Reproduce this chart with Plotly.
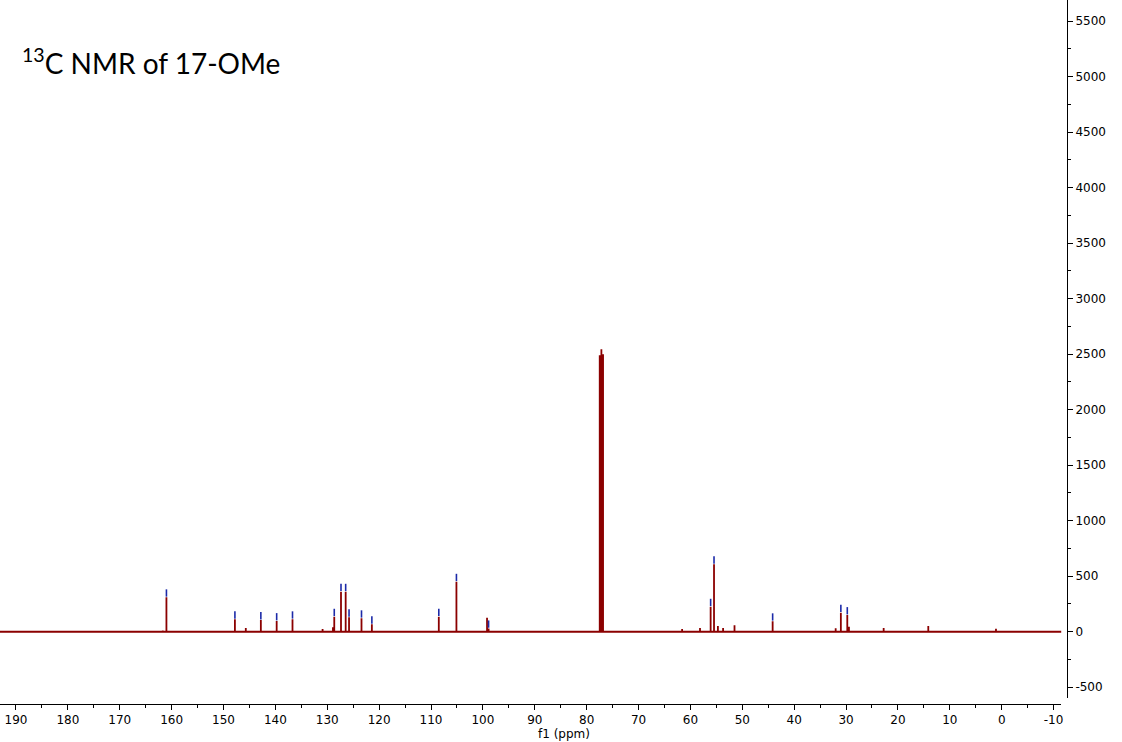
import plotly.graph_objects as go

# 13C spectrum peak list: chemical shift (ppm) and intensity
peak_ppm = [161.7, 161.0, 147.8, 145.7, 142.8, 139.75, 136.7, 132.0, 130.9, 128.9,
            128.65, 127.35, 126.45, 125.8, 123.4, 121.4, 108.5, 105.1, 99.2, 98.9,
            77.48, 77.16, 76.84, 61.6, 58.15, 56.1, 55.45, 54.7, 53.7, 51.5,
            44.15, 32.0, 31.0, 29.76, 29.44, 22.75, 14.15, 1.1]
peak_int = [12, 310, 112, 33, 105, 96, 112, 8, 24, 40,
            135, 360, 360, 130, 121, 67, 135, 450, 126, 30,
            2490, 2545, 2500, 24, 33, 225, 607, 51, 33, 58,
            94, 31, 171, 150, 45, 33, 51, 27]
# 1 = peak carries a peak-picking mark
picked = [0, 1, 1, 0, 1, 1, 1, 0, 0, 0,
          1, 1, 1, 1, 1, 1, 1, 1, 0, 1,
          0, 0, 0, 0, 0, 1, 1, 0, 0, 0,
          1, 0, 1, 1, 0, 0, 0, 0]

x_range = [193.08, -11.52]
y_range = [-597, 5691]
x_ticks = list(range(190, -11, -10))
y_ticks = list(range(-500, 5501, 500))

# spectrum trace: baseline with each resonance drawn as a sharp line
order = sorted(range(len(peak_ppm)), key=lambda i: -peak_ppm[i])
sx, sy = [x_range[0]], [0]
for i in order:
    sx += [peak_ppm[i], peak_ppm[i], peak_ppm[i]]
    sy += [0, peak_int[i], 0]
sx.append(x_range[1])
sy.append(0)

# peak-picking marks just above the picked peaks
gap, mark_len = 6, 66
mx, my = [], []
for p, h, f in zip(peak_ppm, peak_int, picked):
    if f:
        mx += [p, p, None]
        my += [h + gap, h + gap + mark_len, None]

fig = go.Figure()
fig.add_trace(go.Scatter(x=sx, y=sy, mode="lines",
                         line=dict(color="#8b0000", width=1.8),
                         hoverinfo="skip", showlegend=False))
fig.add_trace(go.Scatter(x=mx, y=my, mode="lines",
                         line=dict(color="#1c2aa8", width=1.6),
                         hoverinfo="skip", showlegend=False))

tick_font = dict(family="DejaVu Sans", size=12, color="black")

fig.update_layout(
    width=1122, height=742,
    margin=dict(l=0, r=55, t=0, b=38),
    paper_bgcolor="white", plot_bgcolor="white",
    xaxis=dict(
        domain=[0, 0.9948], anchor="free", position=0,
        range=x_range, tickmode="array", tickvals=x_ticks,
        ticktext=[str(v) for v in x_ticks],
        ticks="outside", ticklen=5, tickcolor="black", tickwidth=1,
        minor=dict(ticks="outside", dtick=5, tick0=0, ticklen=3,
                   tickcolor="black", showgrid=False),
        showline=True, linecolor="black", linewidth=1,
        showgrid=False, zeroline=False, tickfont=tick_font,
    ),
    yaxis=dict(
        domain=[0.0085, 1], anchor="free", position=1, side="right",
        range=y_range, tickmode="array", tickvals=y_ticks,
        ticktext=[str(v) for v in y_ticks],
        ticks="outside", ticklen=5, tickcolor="black", tickwidth=1,
        minor=dict(ticks="outside", dtick=250, tick0=0, ticklen=3,
                   tickcolor="black", showgrid=False),
        showline=True, linecolor="black", linewidth=1,
        showgrid=False, zeroline=False, tickfont=tick_font,
    ),
    annotations=[
        dict(text="<sup>13</sup>C NMR of 17-OMe", xref="paper", yref="paper",
             x=0.019, y=0.912, xanchor="left", yanchor="middle",
             showarrow=False, font=dict(family="Lato", size=28, color="black")),
        dict(text="f1 (ppm)", xref="paper", yref="paper",
             x=0.529, y=-0.042, xanchor="center", yanchor="middle",
             showarrow=False, font=tick_font),
    ],
)

fig.write_html("out.html")
